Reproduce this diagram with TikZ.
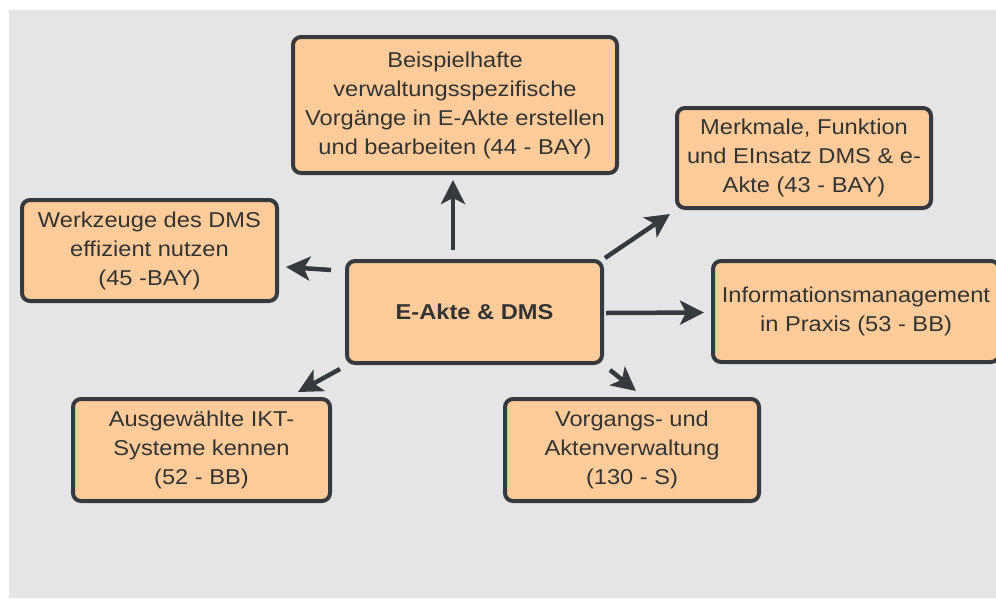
\documentclass[tikz,border=0pt]{standalone}
\usepackage{fontspec}
\setmainfont[FakeStretch=1.1]{Liberation Sans}
\usetikzlibrary{arrows.meta,calc}
\definecolor{bggray}{HTML}{E5E5E5}
\definecolor{peach}{HTML}{FFCC99}
\definecolor{edge}{HTML}{36393D}
\definecolor{ink}{HTML}{333333}

\begin{document}
\begin{tikzpicture}[x=1pt,y=-1pt,
  topic/.style={draw=edge, line width=4pt, fill=peach, rounded corners=8pt,
    text=ink, align=center, inner sep=0pt,
    font=\fontsize{21.5}{29}\selectfont},
  link/.style={draw=edge, line width=4.5pt,
    -{Stealth[length=24pt,width=24pt,inset=6pt]}}]

\useasboundingbox (0,0) rectangle (996,598);
\clip (0,0) rectangle (996,598);
\fill[bggray] (9,10) rectangle (996,598);

% topic boxes
\node[topic, minimum width=324pt, minimum height=136pt] (t) at (455,105)
  {Beispielhafte\\verwaltungsspezifische\\Vorgänge in E-Akte erstellen\\und bearbeiten (44 - BAY)};
\node[topic, minimum width=254pt, minimum height=100pt] (m) at (804,158)
  {Merkmale, Funktion\\und EInsatz DMS \& e-\\Akte (43 - BAY)};
\node[topic, minimum width=255pt, minimum height=101pt] (w) at (149.5,250.5)
  {Werkzeuge des DMS\\effizient nutzen\\(45 -BAY)};
\node[topic, minimum width=255pt, minimum height=102pt] (c) at (474.5,312)
  {\textbf{E-Akte \& DMS}};
\node[topic, minimum width=286pt, minimum height=101pt] (i) at (856,311.5)
  {Informationsmanagement\\in Praxis (53 - BB)};
\node[topic, minimum width=257pt, minimum height=102pt] (a) at (201.5,450)
  {Ausgewählte IKT-\\Systeme kennen\\(52 - BB)};
\node[topic, minimum width=254pt, minimum height=102pt] (v) at (632,450)
  {Vorgangs- und\\Aktenverwaltung\\(130 - S)};

% connectors from the central topic
\draw[link] ($(c.north -| t.south)+(-2,-9)$) -- ($(t.south)+(-2,5)$);
\draw[link] ($(c.north west)+(-14,11)$) -- ($(w.east)+(7,16.5)$);
\draw[link] ($(c.north east)+(1,-1)$) -- ($(m.south west)+(-5,4)$);
\draw[link] ($(c.east)+(2,1)$) -- ($(i.west)+(-7,1)$);
\draw[link] ($(c.south west)+(-5,4)$) -- ($(a.north east)+(-34,-5)$);
\draw[link] ($(c.south east)+(6,5)$) -- ($(v.north west)+(133,-6)$);
\end{tikzpicture}
\end{document}
